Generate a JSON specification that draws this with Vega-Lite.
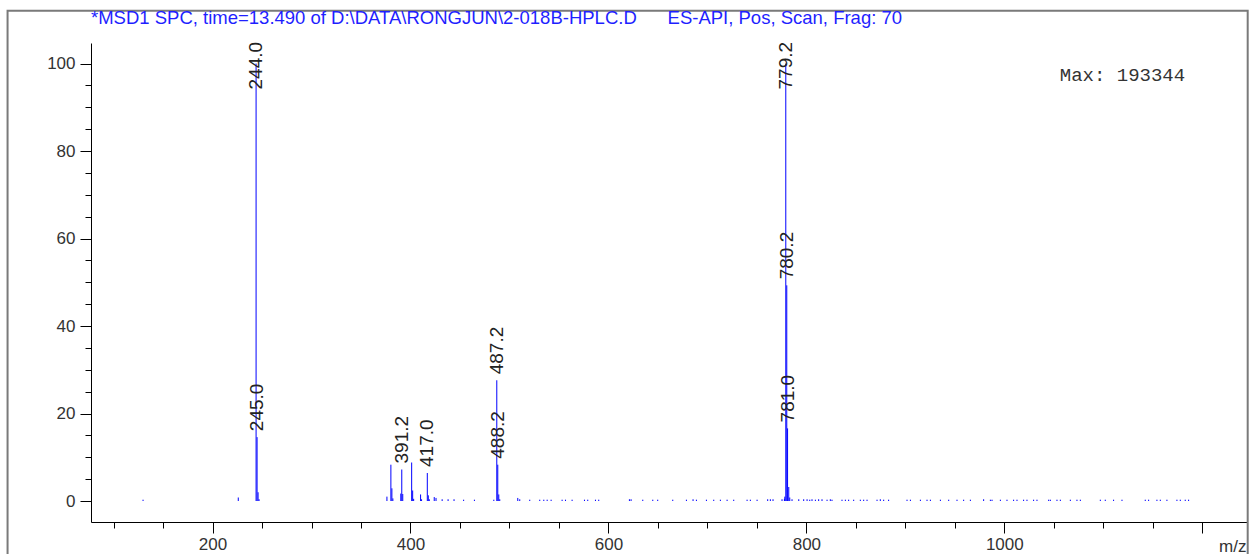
{
  "$schema": "https://vega.github.io/schema/vega-lite/v6.json",
  "autosize": {"type": "none"},
  "width": 1156,
  "height": 479,
  "padding": {"left": 91, "top": 43, "right": 5, "bottom": 32},
  "background": "white",
  "config": {
    "view": {"stroke": null},
    "font": "Liberation Sans",
    "axis": {"labelFont": "Liberation Sans", "labelFontSize": 17, "labelColor": "#333333", "tickColor": "#000000", "domainColor": "#000000", "grid": false, "title": null}
  },
  "title": {
    "text": "*MSD1 SPC, time=13.490 of D:\\DATA\\RONGJUN\\2-018B-HPLC.D\u00a0\u00a0\u00a0\u00a0\u00a0\u00a0ES-API, Pos, Scan, Frag: 70",
    "anchor": "start",
    "frame": "group",
    "color": "#1f1fff",
    "font": "Liberation Sans",
    "fontSize": 18.5,
    "fontWeight": "normal",
    "baseline": "bottom",
    "offset": -37
  },
  "datasets": {
    "peaks": [
      {"mz": 129.8, "intensity": 0.3},
      {"mz": 226.0, "intensity": 0.8},
      {"mz": 244.0, "intensity": 100, "label": "244.0"},
      {"mz": 245.0, "intensity": 14.6, "label": "245.0"},
      {"mz": 246.0, "intensity": 2.0},
      {"mz": 247.0, "intensity": 0.4},
      {"mz": 376.2, "intensity": 1.0},
      {"mz": 380.2, "intensity": 8.3},
      {"mz": 381.2, "intensity": 2.9},
      {"mz": 382.2, "intensity": 0.6},
      {"mz": 390.2, "intensity": 1.7},
      {"mz": 391.2, "intensity": 7.2, "label": "391.2"},
      {"mz": 392.2, "intensity": 1.6},
      {"mz": 401.2, "intensity": 8.8},
      {"mz": 402.2, "intensity": 2.4},
      {"mz": 403.2, "intensity": 0.5},
      {"mz": 410.2, "intensity": 1.5},
      {"mz": 411.2, "intensity": 0.4},
      {"mz": 417.0, "intensity": 6.4, "label": "417.0"},
      {"mz": 418.0, "intensity": 1.3},
      {"mz": 419.0, "intensity": 0.4},
      {"mz": 424.0, "intensity": 0.9},
      {"mz": 425.8, "intensity": 0.7},
      {"mz": 432.0, "intensity": 0.4},
      {"mz": 438.0, "intensity": 0.4},
      {"mz": 444.0, "intensity": 0.4},
      {"mz": 453.7, "intensity": 0.3},
      {"mz": 464.6, "intensity": 0.3},
      {"mz": 484.2, "intensity": 0.3},
      {"mz": 487.2, "intensity": 27.6, "label": "487.2"},
      {"mz": 488.2, "intensity": 8.3, "label": "488.2"},
      {"mz": 489.2, "intensity": 1.5},
      {"mz": 490.2, "intensity": 0.4},
      {"mz": 508.4, "intensity": 0.7},
      {"mz": 510.4, "intensity": 0.4},
      {"mz": 520.5, "intensity": 0.3},
      {"mz": 530.6, "intensity": 0.3},
      {"mz": 534.7, "intensity": 0.3},
      {"mz": 538.1, "intensity": 0.3},
      {"mz": 542.1, "intensity": 0.3},
      {"mz": 553.2, "intensity": 0.3},
      {"mz": 556.6, "intensity": 0.3},
      {"mz": 563.3, "intensity": 0.3},
      {"mz": 575.8, "intensity": 0.3},
      {"mz": 579.1, "intensity": 0.3},
      {"mz": 586.9, "intensity": 0.3},
      {"mz": 590.2, "intensity": 0.3},
      {"mz": 621.2, "intensity": 0.4},
      {"mz": 622.9, "intensity": 0.4},
      {"mz": 634.7, "intensity": 0.3},
      {"mz": 644.8, "intensity": 0.3},
      {"mz": 649.8, "intensity": 0.3},
      {"mz": 665.0, "intensity": 0.3},
      {"mz": 678.8, "intensity": 0.3},
      {"mz": 685.5, "intensity": 0.4},
      {"mz": 688.9, "intensity": 0.3},
      {"mz": 699.0, "intensity": 0.3},
      {"mz": 706.4, "intensity": 0.3},
      {"mz": 713.1, "intensity": 0.3},
      {"mz": 719.9, "intensity": 0.3},
      {"mz": 726.6, "intensity": 0.3},
      {"mz": 740.1, "intensity": 0.3},
      {"mz": 743.4, "intensity": 0.3},
      {"mz": 750.2, "intensity": 0.3},
      {"mz": 760.9, "intensity": 0.4},
      {"mz": 763.6, "intensity": 0.4},
      {"mz": 766.3, "intensity": 0.4},
      {"mz": 775.4, "intensity": 0.4},
      {"mz": 777.8, "intensity": 0.5},
      {"mz": 778.2, "intensity": 1.0},
      {"mz": 779.2, "intensity": 100, "label": "779.2"},
      {"mz": 780.2, "intensity": 49.3, "label": "780.2"},
      {"mz": 781.0, "intensity": 16.6, "label": "781.0"},
      {"mz": 782.2, "intensity": 3.2},
      {"mz": 783.2, "intensity": 0.8},
      {"mz": 785.5, "intensity": 0.4},
      {"mz": 792.3, "intensity": 0.4},
      {"mz": 797.3, "intensity": 0.4},
      {"mz": 800.7, "intensity": 0.4},
      {"mz": 803.4, "intensity": 0.3},
      {"mz": 805.7, "intensity": 0.4},
      {"mz": 809.1, "intensity": 0.3},
      {"mz": 812.4, "intensity": 0.4},
      {"mz": 815.8, "intensity": 0.4},
      {"mz": 820.9, "intensity": 0.3},
      {"mz": 824.2, "intensity": 0.4},
      {"mz": 825.9, "intensity": 0.3},
      {"mz": 836.0, "intensity": 0.3},
      {"mz": 839.4, "intensity": 0.3},
      {"mz": 842.7, "intensity": 0.3},
      {"mz": 847.8, "intensity": 0.3},
      {"mz": 854.5, "intensity": 0.3},
      {"mz": 857.9, "intensity": 0.3},
      {"mz": 861.3, "intensity": 0.3},
      {"mz": 871.4, "intensity": 0.3},
      {"mz": 874.7, "intensity": 0.4},
      {"mz": 878.1, "intensity": 0.3},
      {"mz": 883.1, "intensity": 0.3},
      {"mz": 901.7, "intensity": 0.3},
      {"mz": 905.1, "intensity": 0.3},
      {"mz": 915.2, "intensity": 0.3},
      {"mz": 921.9, "intensity": 0.3},
      {"mz": 925.3, "intensity": 0.3},
      {"mz": 935.4, "intensity": 0.3},
      {"mz": 943.8, "intensity": 0.3},
      {"mz": 952.2, "intensity": 0.3},
      {"mz": 958.9, "intensity": 0.3},
      {"mz": 965.7, "intensity": 0.3},
      {"mz": 979.1, "intensity": 0.4},
      {"mz": 985.9, "intensity": 0.3},
      {"mz": 987.6, "intensity": 0.3},
      {"mz": 996.0, "intensity": 0.3},
      {"mz": 1002.7, "intensity": 0.3},
      {"mz": 1009.4, "intensity": 0.3},
      {"mz": 1012.8, "intensity": 0.3},
      {"mz": 1019.5, "intensity": 0.3},
      {"mz": 1022.9, "intensity": 0.3},
      {"mz": 1029.6, "intensity": 0.3},
      {"mz": 1033.0, "intensity": 0.3},
      {"mz": 1044.8, "intensity": 0.3},
      {"mz": 1046.5, "intensity": 0.3},
      {"mz": 1053.2, "intensity": 0.3},
      {"mz": 1056.6, "intensity": 0.3},
      {"mz": 1066.7, "intensity": 0.3},
      {"mz": 1073.4, "intensity": 0.3},
      {"mz": 1076.8, "intensity": 0.3},
      {"mz": 1097.0, "intensity": 0.3},
      {"mz": 1102.0, "intensity": 0.3},
      {"mz": 1110.4, "intensity": 0.3},
      {"mz": 1118.9, "intensity": 0.3},
      {"mz": 1142.4, "intensity": 0.3},
      {"mz": 1145.8, "intensity": 0.3},
      {"mz": 1154.2, "intensity": 0.3},
      {"mz": 1157.6, "intensity": 0.3},
      {"mz": 1164.3, "intensity": 0.3},
      {"mz": 1174.4, "intensity": 0.3},
      {"mz": 1177.8, "intensity": 0.3},
      {"mz": 1182.8, "intensity": 0.3},
      {"mz": 1186.2, "intensity": 0.3}
    ]
  },
  "layer": [
    {
      "data": {"values": [{}]},
      "mark": {"type": "rect", "fill": "transparent", "stroke": "#7a7a7a", "strokeWidth": 2},
      "encoding": {
        "x": {"datum": -7.1, "type": "quantitative", "scale": {"domain": [77.2, 1245.2], "nice": false, "zero": false}, "axis": null},
        "x2": {"datum": 1245.9},
        "y": {"datum": 112.1, "type": "quantitative", "scale": {"domain": [-4.8, 104.7], "nice": false, "zero": false}, "axis": null},
        "y2": {"datum": -15}
      }
    },
    {
      "data": {"name": "peaks"},
      "mark": {"type": "rule", "color": "#0000ff", "strokeWidth": 1},
      "encoding": {
        "x": {"field": "mz", "type": "quantitative", "scale": {"domain": [77.2, 1245.2], "nice": false, "zero": false},
          "axis": {"orient": "bottom", "values": [200, 400, 600, 800, 1000, 1200], "format": "d", "tickSize": 11, "labelPadding": 3,
            "labelExpr": "datum.value == 1200 ? '' : datum.label", "labelFlush": false, "labelOverlap": false,
            "title": "m/z", "titleFont": "Liberation Sans", "titleFontSize": 17, "titleFontWeight": "normal", "titleColor": "#333333",
            "titleAnchor": "end", "titleAlign": "right", "titleBaseline": "alphabetic", "titleX": 1155, "titleY": 29}},
        "y": {"field": "intensity", "type": "quantitative", "scale": {"domain": [-4.8, 104.7], "nice": false, "zero": false},
          "axis": {"orient": "left", "values": [0, 20, 40, 60, 80, 100], "tickSize": 11, "labelPadding": 5}},
        "y2": {"datum": 0}
      }
    },
    {
      "data": {"name": "peaks"},
      "mark": {"type": "point", "opacity": 0},
      "encoding": {
        "x": {"field": "mz", "type": "quantitative", "scale": {"domain": [77.2, 1245.2], "nice": false, "zero": false},
          "axis": {"orient": "bottom", "values": [100, 150, 250, 300, 350, 450, 500, 550, 650, 700, 750, 850, 900, 950, 1050, 1100, 1150], "tickSize": 6, "labels": false, "domain": false}},
        "y": {"field": "intensity", "type": "quantitative", "scale": {"domain": [-4.8, 104.7], "nice": false, "zero": false},
          "axis": {"orient": "left", "values": [5, 10, 15, 25, 30, 35, 45, 50, 55, 65, 70, 75, 85, 90, 95], "tickSize": 6, "labels": false, "domain": false}}
      }
    },
    {
      "data": {"name": "peaks"},
      "transform": [{"filter": "datum.label && datum.intensity < 90"}],
      "mark": {"type": "text", "angle": 270, "align": "left", "baseline": "middle", "dx": 6, "font": "Liberation Sans", "fontSize": 19, "color": "#222222"},
      "encoding": {
        "x": {"field": "mz", "type": "quantitative", "axis": null},
        "y": {"field": "intensity", "type": "quantitative", "axis": null},
        "text": {"field": "label"}
      }
    },
    {
      "data": {"name": "peaks"},
      "transform": [{"filter": "datum.label && datum.intensity >= 90"}],
      "mark": {"type": "text", "angle": 270, "align": "left", "baseline": "middle", "dx": 6, "font": "Liberation Sans", "fontSize": 19, "color": "#222222"},
      "encoding": {
        "x": {"field": "mz", "type": "quantitative", "axis": null},
        "y": {"datum": 92.7, "type": "quantitative", "axis": null},
        "text": {"field": "label"}
      }
    },
    {
      "data": {"values": [{"t": "Max: 193344"}]},
      "mark": {"type": "text", "align": "left", "baseline": "middle", "font": "Liberation Mono", "fontSize": 19, "color": "#333333"},
      "encoding": {
        "x": {"datum": 1056, "type": "quantitative", "axis": null},
        "y": {"datum": 97.4, "type": "quantitative", "axis": null},
        "text": {"field": "t"}
      }
    }
  ],
  "resolve": {"axis": {"x": "independent", "y": "independent"}}
}
